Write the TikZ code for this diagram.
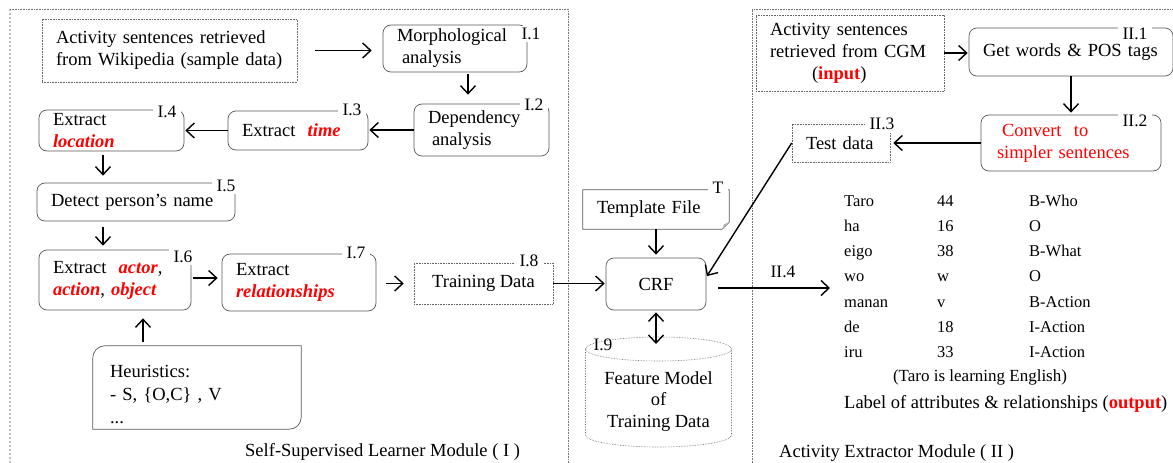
\documentclass[tikz,border=0pt]{standalone}
\usepackage{fontspec}
\setmainfont{Liberation Serif}
\usepackage{xcolor}
\usepackage{tikz}
\usetikzlibrary{arrows.meta}

\newcommand\redbi[1]{\textcolor{red}{\textbf{\textit{#1}}}}
\tikzset{
  box/.style={draw=black!65, line width=0.7pt, rounded corners=8pt, align=left, inner xsep=14pt, inner ysep=2pt, font=\fontsize{18.5}{22}\selectfont},
  dbox/.style={draw=black!60, densely dotted, line width=0.6pt, align=left, inner xsep=14pt, inner ysep=2pt, font=\fontsize{18.5}{22}\selectfont},
  txt/.style={inner sep=0pt, align=left, font=\fontsize{18.5}{22}\selectfont},
  lbl/.style={fill=white, inner xsep=5pt, inner ysep=2pt, font=\fontsize{17.5}{20}\selectfont},
  arr/.style={-{Straight Barb[length=8pt,width=15pt]}, line width=1.4pt},
  modframe/.style={black!55, densely dotted, line width=0.6pt},
}

\begin{document}
\begin{tikzpicture}[x=1pt,y=-1pt]
\useasboundingbox (0,0) rectangle (1173,463);
% module frames
\draw[black!25, dotted, line width=2pt] (10,463) -- (10,9);
\draw[modframe] (10,9) -- (568,9) -- (568,463);
\draw[modframe] (752,463) -- (752,9) -- (1173,9);

% module I
\node[dbox, text width=227pt, minimum height=63pt] (src) at (169.5,50.5) {Activity sentences retrieved\\from Wikipedia (sample data)};
\node[box, text width=116pt, minimum height=47pt] (morph) at (455,48.5) {Morphological\\\hspace*{5pt}analysis};
\node[box, text width=107pt, minimum height=52pt] (dep) at (481.5,130) {Dependency\\\hspace*{4pt}analysis};
\node[box, text width=112pt, minimum height=39pt] (time) at (298,130.5) {Extract \ \redbi{time}};
\node[box, text width=117pt, minimum height=41pt] (loc) at (111.5,130.5) {Extract\\\redbi{location}};
\node[box, text width=170pt, minimum height=38pt] (person) at (136,202) {Detect person's name};
\node[box, text width=124pt, minimum height=60pt] (act) at (115,280) {Extract \ \redbi{actor},\\\redbi{action}, \redbi{object}};
\node[box, text width=126pt, minimum height=57pt] (rel) at (299,282.5) {Extract\\\redbi{relationships}};
\node[txt, inner xsep=17pt, text width=174pt, minimum height=83pt, font=\fontsize{18.5}{23}\selectfont] (heur) at (197,387.5) {\rule{0pt}{27pt}Heuristics:\\- S, \{O,C\} , V\\...};
\draw[black!65, line width=0.7pt] (heur.south west) -- ([yshift=-12pt]heur.north west)
  arc[start angle=180, end angle=90, radius=12pt] -- (heur.north east)
  -- ([yshift=12pt]heur.south east) arc[start angle=0, end angle=-90, radius=12pt] -- cycle;
\node[dbox, align=center, minimum width=139pt, minimum height=41pt] (train) at (483.5,283.5) {Training Data};

% CRF part
\node[txt, inner xsep=14pt, text width=118pt, minimum height=39pt] (tmpl) at (656,209.5) {Template File};
\draw[black!65, line width=0.7pt] (tmpl.north west) -- (tmpl.north east) -- ([yshift=7pt]tmpl.south east)
  -- ([xshift=-7pt]tmpl.south east) -- (tmpl.south west) -- cycle;
\fill[black!30] ([yshift=7pt]tmpl.south east) -- ([xshift=-7pt]tmpl.south east) -- ([xshift=-5pt,yshift=5pt]tmpl.south east) -- cycle;
\node[box, align=center, minimum width=100pt, minimum height=52pt] (crf) at (656,284) {CRF};
\node[txt, align=center, font=\fontsize{18.5}{21.5}\selectfont] (feat) at (658.5,401.5) {Feature Model\\of\\Training Data};
\draw[dbox] (658.5,349) ellipse [x radius=73pt, y radius=12pt];
\draw[dbox] (585.5,349) -- (585.5,435) arc[start angle=180, end angle=360, x radius=73pt, y radius=12pt] -- (731.5,349);
\coordinate (feattop) at (656,344);

% module II
\node[dbox, text width=160pt, minimum height=76pt] (inp) at (850,53) {Activity sentences\\retrieved from CGM\\\hspace*{42pt}(\textcolor{red}{\textbf{input}})};
\node[box, text width=176pt, minimum height=48pt] (words) at (1071,52) {Get words \& POS tags};
\node[box, inner xsep=16pt, text width=148pt, minimum height=56pt, text=red] (conv) at (1071,143) {\hspace*{5pt}Convert \ to\\simpler sentences};
\node[dbox, text width=70pt, minimum height=38pt] (test) at (841,143) {Test data};
\node[txt, anchor=base west, font=\fontsize{16.5}{25.3}\selectfont] (tab) at (844,206) {%
\begin{tabular}[t]{@{}p{93pt}@{}p{92pt}@{}l@{}}
Taro & 44 & B-Who\\
ha & 16 & O\\
eigo & 38 & B-What\\
wo & w & O\\
manan & v & B-Action\\
de & 18 & I-Action\\
iru & 33 & I-Action
\end{tabular}};
\node[txt, font=\fontsize{17}{20}\selectfont] (eng) at (980,377) {(Taro is learning English)};
\node[txt, anchor=west] (outp) at (844,404) {Label of attributes \& relationships (\textcolor{red}{\textbf{output}})};
\coordinate (tabin) at (830,288);

% captions
\node[txt, anchor=west] (capa) at (245,452) {Self-Supervised Learner Module ( I )};
\node[txt, anchor=west] (capb) at (779,453) {Activity Extractor Module ( II )};

% step labels
\node[lbl] (l1) at (531,34) {I.1};
\node[lbl] (l2) at (534,105) {I.2};
\node[lbl] (l3) at (352,110) {I.3};
\node[lbl] (l4) at (167,112) {I.4};
\node[lbl] (l5) at (226,186) {I.5};
\node[lbl] (l6) at (183,257) {I.6};
\node[lbl] (l7) at (356,253) {I.7};
\node[lbl] (l8) at (529,261) {I.8};
\node[lbl] (lt) at (718,188) {T};
\node[lbl, fill=none] (l9) at (603,345) {I.9};
\node[lbl] (m1) at (1135,34) {II.1};
\node[lbl] (m2) at (1135,121) {II.2};
\node[lbl] (m3) at (882,124) {II.3};
\node[lbl, fill=none] (m4) at (783,272) {II.4};

% arrows
\draw[arr, shorten <=18pt, shorten >=11pt] (src.east) -- (src.east -| morph.west);
\draw[arr, shorten <=2pt, shorten >=9pt] ([xshift=13pt]morph.south) -- ([xshift=13pt]morph.south |- dep.north);
\draw[arr, shorten >=1pt] (dep.west) -- (dep.west -| time.east);
\draw[arr, shorten >=1pt] (time.west) -- (time.west -| loc.east);
\draw[arr, shorten <=4pt, shorten >=7pt] ([xshift=-8.5pt]loc.south) -- ([xshift=-8.5pt]loc.south |- person.north);
\draw[arr, shorten <=6pt, shorten >=4pt] ([xshift=-12pt]act.north |- person.south) -- ([xshift=-12pt]act.north);
\draw[arr, shorten <=4pt, shorten >=8pt] ([xshift=28pt]act.south |- heur.north) -- ([xshift=28pt]act.south);
\draw[arr, shorten <=2pt, shorten >=4pt] ([yshift=2pt]act.east) -- ([yshift=2pt]act.east -| rel.west);
\draw[arr, shorten <=10pt, shorten >=10pt] (rel.east |- train.west) -- (train.west);
\draw[arr, shorten >=1pt] (train.east) -- (train.east -| crf.west);
\draw[arr, shorten >=3pt] (tmpl.south) -- (crf.north);
\draw[{Straight Barb[length=8pt,width=15pt]}-{Straight Barb[length=8pt,width=15pt]}, line width=1.4pt, shorten <=2pt] (crf.south) -- (feattop);
\draw[arr, shorten >=1pt] (test.west) -- ([yshift=7pt]crf.east);
\draw[arr, shorten <=12pt] ([yshift=-4pt]crf.east) -- (tabin);
\draw[arr, shorten >=1pt] (inp.east) -- (inp.east -| words.west);
\draw[arr, shorten >=2pt] (words.south) -- (conv.north);
\draw[arr, shorten >=3pt] (conv.west) -- (conv.west -| test.east);
\end{tikzpicture}
\end{document}
